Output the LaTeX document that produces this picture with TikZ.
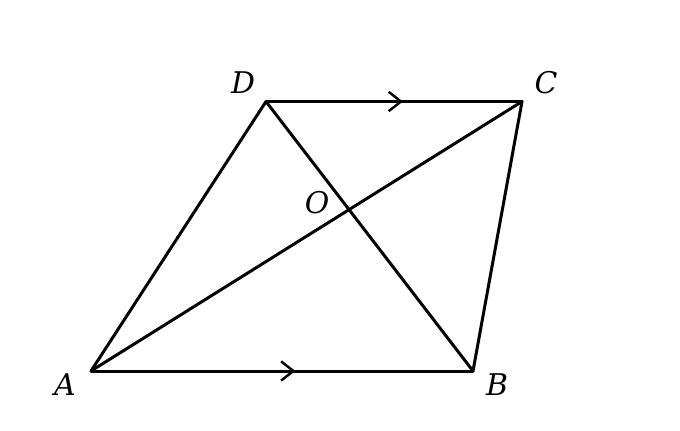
\documentclass[tikz,border=0pt]{standalone}
\usepackage{fontspec}
\setmainfont{DejaVu Serif}
\usetikzlibrary{arrows.meta,decorations.markings,intersections}
\begin{document}
\begin{tikzpicture}[
  x=0.02cm, y=-0.02cm,
  edge/.style = {line width=1.7pt, line cap=round, line join=round},
  parallel/.style = {edge, decoration={markings,
      mark=at position 0.535 with {\arrow{Straight Barb[length=7pt,width=11pt,line width=1.4pt]}}},
    postaction={decorate}},
  lbl/.style = {font=\fontsize{17}{19}\selectfont\itshape, inner sep=0pt}
  ]
  \useasboundingbox (0,0) rectangle (680,430);
  % vertices
  \coordinate (A) at (91,371);
  \coordinate (B) at (473,371);
  \coordinate (C) at (522,101.5);
  \coordinate (D) at (266,101.5);
  % sides
  \draw[parallel] (A) -- (B);
  \draw[parallel] (D) -- (C);
  \draw[edge] (A) -- (D);
  \draw[edge] (B) -- (C);
  % diagonals
  \draw[edge, name path=ac] (A) -- (C);
  \draw[edge, name path=db] (D) -- (B);
  \path[name intersections={of=ac and db, by=O}];
  % labels
  \node[lbl] (lA) at (65,385) {A};
  \node[lbl] (lB) at (497,385) {B};
  \node[lbl] (lC) at (546,83) {C};
  \node[lbl] (lD) at (243,83) {D};
  \node[lbl] (lO) at (317,203) {O};
\end{tikzpicture}
\end{document}
